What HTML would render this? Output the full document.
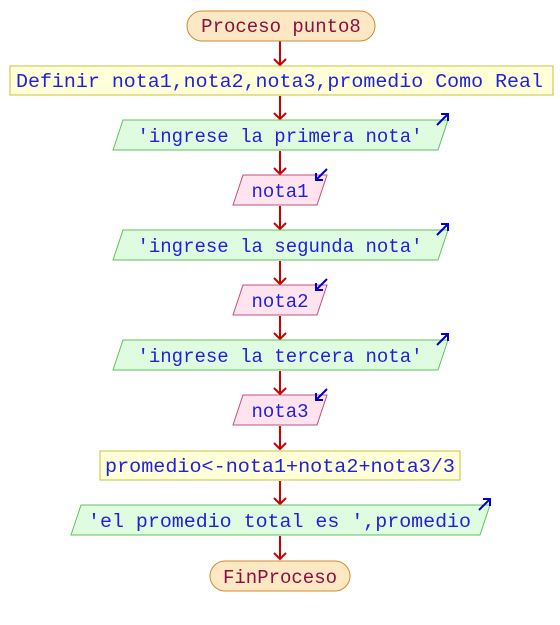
<!DOCTYPE html>
<html><head><meta charset="utf-8"><style>
html,body{margin:0;padding:0;background:#fff;}
svg{display:block;}
text{font-family:"Liberation Mono","Courier New",monospace;font-size:19px;}
</style></head><body>
<svg width="560" height="625" viewBox="0 0 560 625" xmlns="http://www.w3.org/2000/svg">
<g stroke="#cc0000" stroke-width="2" fill="none">
<path d="M280,41 V65 M274,59 L280,65 L286,59"/>
<path d="M280,96 V119 M274,113 L280,119 L286,113"/>
<path d="M280,151 V174 M274,168 L280,174 L286,168"/>
<path d="M280,206 V229 M274,223 L280,229 L286,223"/>
<path d="M280,261 V284 M274,278 L280,284 L286,278"/>
<path d="M280,316 V339 M274,333 L280,339 L286,333"/>
<path d="M280,371 V394 M274,388 L280,394 L286,388"/>
<path d="M280,426 V449 M274,443 L280,449 L286,443"/>
<path d="M280,481 V504 M274,498 L280,504 L286,498"/>
<path d="M280,536 V559 M274,553 L280,559 L286,553"/>
</g>
<rect x="187" y="11" width="188" height="30" rx="15" fill="#fde8c4" stroke="#d08a30"/>
<text x="281" y="32" text-anchor="middle" fill="#8a1040">Proceso punto8</text>
<rect x="10" y="66" width="543" height="29" fill="#ffffd8" stroke="#c8c040"/>
<text x="16" y="87" fill="#2020e0" textLength="527" lengthAdjust="spacingAndGlyphs">Definir nota1,nota2,nota3,promedio Como Real</text>
<g fill="#e0fce0" stroke="#60c060">
<polygon points="113,150 123,120 448,120 438,150"/>
<polygon points="113,260 123,230 448,230 438,260"/>
<polygon points="113,370 123,340 448,340 438,370"/>
<polygon points="71,535 81,505 490,505 480,535"/>
</g>
<g fill="#ffe4f0" stroke="#c05080">
<polygon points="233,205 243,175 327,175 317,205"/>
<polygon points="233,315 243,285 327,285 317,315"/>
<polygon points="233,425 243,395 327,395 317,425"/>
</g>
<rect x="100" y="451" width="360" height="29" fill="#ffffd8" stroke="#c8c040"/>
<rect x="210" y="561" width="140" height="30" rx="15" fill="#fde8c4" stroke="#d08a30"/>
<g fill="#2020e0">
<text x="280" y="142" text-anchor="middle">'ingrese la primera nota'</text>
<text x="280" y="197" text-anchor="middle">nota1</text>
<text x="280" y="252" text-anchor="middle">'ingrese la segunda nota'</text>
<text x="280" y="307" text-anchor="middle">nota2</text>
<text x="280" y="362" text-anchor="middle">'ingrese la tercera nota'</text>
<text x="280" y="417" text-anchor="middle">nota3</text>
<text x="105" y="472" textLength="350" lengthAdjust="spacingAndGlyphs">promedio&lt;-nota1+nota2+nota3/3</text>
<text x="88" y="527" textLength="383" lengthAdjust="spacingAndGlyphs">'el promedio total es ',promedio</text>
</g>
<text x="280" y="583" text-anchor="middle" fill="#8a1040">FinProceso</text>
<g stroke="#0000cc" stroke-width="2" fill="none">
<path d="M437,125 L448,114 M441,114 L448,114 L448,121"/>
<path d="M437,235 L448,224 M441,224 L448,224 L448,231"/>
<path d="M437,345 L448,334 M441,334 L448,334 L448,341"/>
<path d="M479,510 L490,499 M483,499 L490,499 L490,506"/>
<path d="M327,169 L316,180 M316,173 L316,180 L323,180"/>
<path d="M327,279 L316,290 M316,283 L316,290 L323,290"/>
<path d="M327,389 L316,400 M316,393 L316,400 L323,400"/>
</g>
</svg>
</body></html>
